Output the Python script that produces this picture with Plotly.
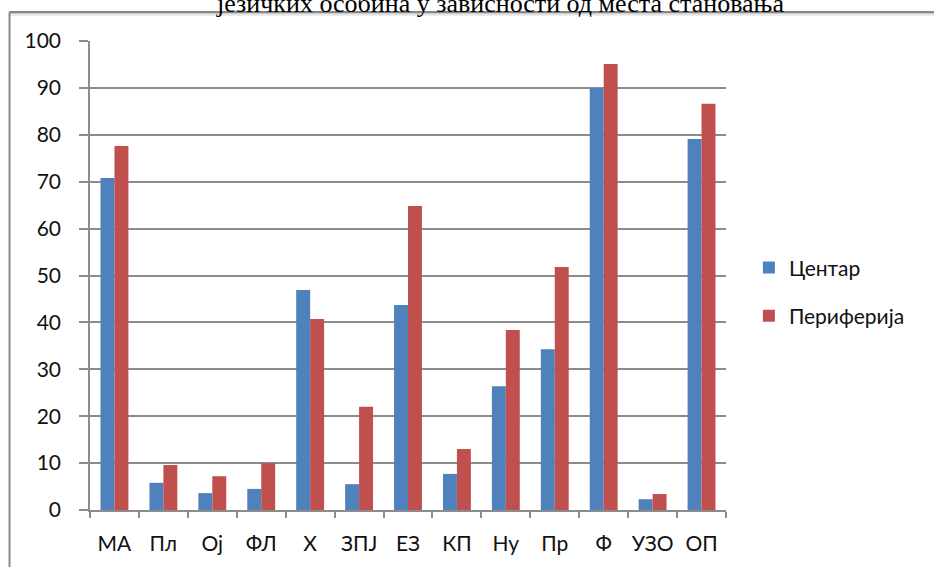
import plotly.graph_objects as go

# Categories of language features and percentages per place of residence
categories = ["МА", "Пл", "Oj", "ФЛ", "X", "ЗПЈ", "ЕЗ", "КП", "Ну", "Пр", "Ф", "УЗО", "ОП"]
centar = [70.8, 5.8, 3.6, 4.5, 46.9, 5.5, 43.7, 7.7, 26.4, 34.3, 90.0, 2.3, 79.1]
periferija = [77.6, 9.6, 7.2, 10.0, 40.7, 22.0, 64.8, 13.0, 38.4, 51.8, 95.1, 3.4, 86.6]
y_ticks = [0, 10, 20, 30, 40, 50, 60, 70, 80, 90, 100]

title_text = "језичких особина у зависности од места становања"

BLUE = "#4F81BD"
RED = "#C0504D"
GRID = "#8C8C8C"
FONT = "Lato"
TXT = "#111111"

fig = go.Figure()
fig.add_trace(go.Bar(x=categories, y=centar, name="Центар",
                     marker=dict(color=BLUE, line=dict(width=0)),
                     legendgroup="c"))
fig.add_trace(go.Bar(x=categories, y=periferija, name="Периферија",
                     marker=dict(color=RED, line=dict(width=0)),
                     legendgroup="p"))

fig.update_layout(
    width=934, height=567,
    margin=dict(l=90, r=208, t=41, b=57),
    paper_bgcolor="white", plot_bgcolor="white",
    barmode="group", bargap=0.43, bargroupgap=0,
    font=dict(family=FONT, size=20, color=TXT),
    showlegend=True,
    legend=dict(x=1.036, y=0.465, xanchor="left", yanchor="middle",
                font=dict(family=FONT, size=21, color=TXT),
                traceorder="grouped", tracegroupgap=18,
                itemwidth=30,
                bgcolor="rgba(0,0,0,0)"),
    xaxis=dict(
        type="category", tickson="boundaries", tickangle=0,
        automargin=False,
        showline=True, linecolor=GRID, linewidth=1.5,
        ticks="outside", ticklen=6, tickcolor=GRID, tickwidth=1.5,
        ticklabelstandoff=14,
        showgrid=False, zeroline=False,
        tickfont=dict(family=FONT, size=21, color=TXT),
    ),
    yaxis=dict(
        range=[0, 100], tickvals=y_ticks, automargin=False,
        showline=True, linecolor=GRID, linewidth=1.5,
        ticks="outside", ticklen=9, tickcolor=GRID, tickwidth=1.5,
        ticklabelstandoff=14,
        showgrid=True, gridcolor=GRID, gridwidth=1.5,
        zeroline=False,
        tickfont=dict(family=FONT, size=21, color=TXT),
    ),
)

# Frame edges around the chart area
fig.add_shape(type="line", xref="paper", yref="paper",
              x0=-0.127, x1=1.4, y0=1.0615, y1=1.0615,
              line=dict(color="#878787", width=2.5))
fig.add_shape(type="line", xref="paper", yref="paper",
              x0=-0.127, x1=1.4, y0=1.056, y1=1.056,
              line=dict(color="#e6e6e6", width=2))
fig.add_shape(type="line", xref="paper", yref="paper",
              x0=-0.1265, x1=-0.1265, y0=1.0615, y1=-0.2,
              line=dict(color="#8a8a8a", width=2))

# Caption line above the frame
fig.add_annotation(text=title_text, xref="paper", yref="paper",
                   x=0.645, y=1.0795, xanchor="center", yanchor="middle",
                   showarrow=False,
                   font=dict(family="Liberation Serif", size=26, color="black"))

fig.write_html("out.html")
